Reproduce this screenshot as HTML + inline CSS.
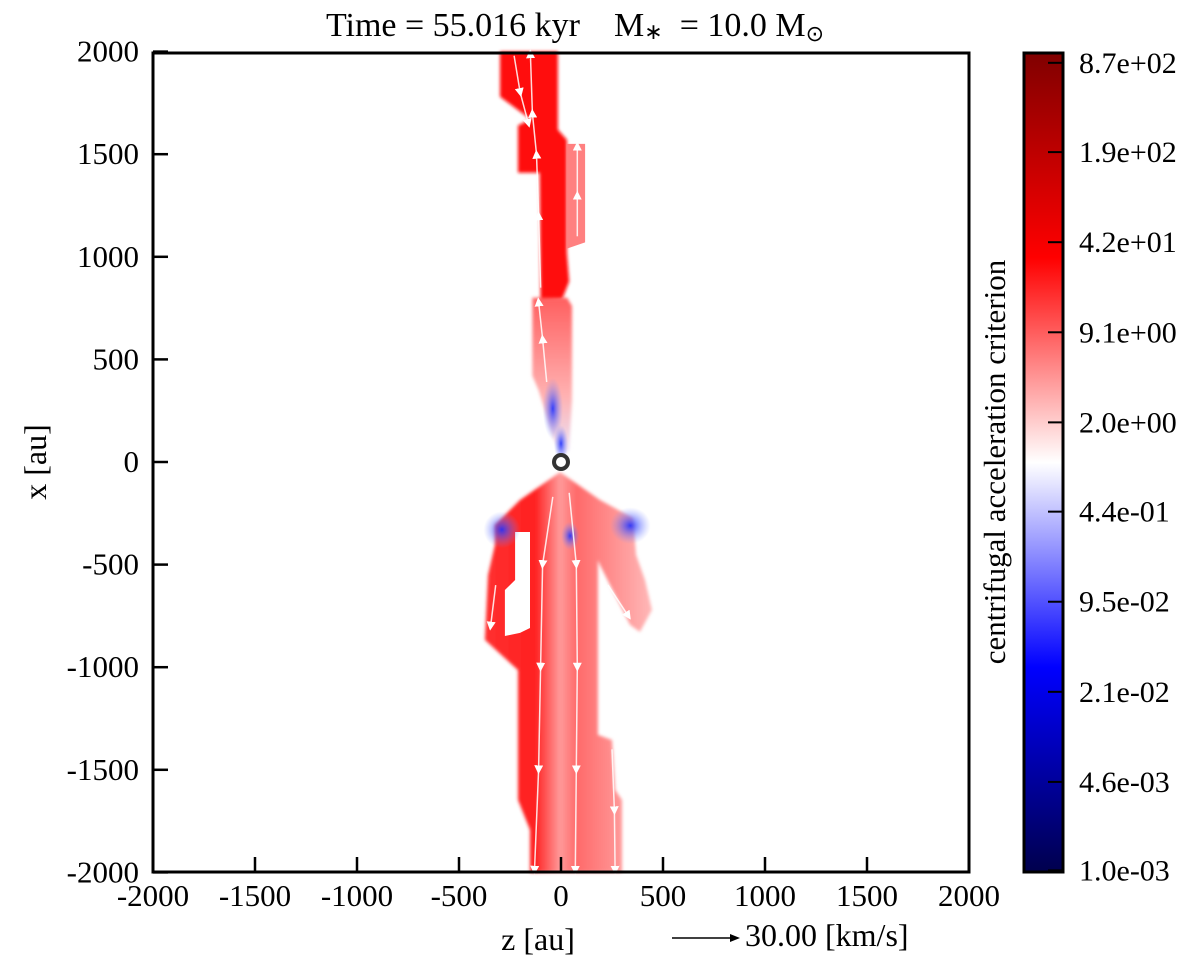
<!DOCTYPE html>
<html><head><meta charset="utf-8">
<style>
body{margin:0;background:#fff;}
svg{display:block;font-family:"Liberation Serif",serif;}
</style></head>
<body>
<svg id="fig" width="1200" height="973" viewBox="0 0 1200 973" xmlns="http://www.w3.org/2000/svg">
<defs>
<linearGradient id="cmap" x1="0" y1="1" x2="0" y2="0">
<stop offset="0" stop-color="#00004d"/><stop offset="0.25" stop-color="#0000ff"/>
<stop offset="0.5" stop-color="#ffffff"/><stop offset="0.75" stop-color="#ff0000"/>
<stop offset="1" stop-color="#800000"/>
</linearGradient>
<linearGradient id="lowGrad" x1="0" y1="0" x2="1" y2="0">
<stop offset="0" stop-color="#ff3030"/><stop offset="0.3" stop-color="#ff2020"/>
<stop offset="0.45" stop-color="#ff9a9a"/><stop offset="0.55" stop-color="#ff6a6a"/>
<stop offset="1" stop-color="#ffb8b8"/>
</linearGradient>
<linearGradient id="paleGrad" x1="0" y1="0" x2="0" y2="1">
<stop offset="0" stop-color="#ff6060"/><stop offset="0.6" stop-color="#ffb0b0"/>
<stop offset="1" stop-color="#e8e8ff"/>
</linearGradient>
<radialGradient id="blueBlob"><stop offset="0" stop-color="#2030ff" stop-opacity="0.9"/><stop offset="1" stop-color="#8090ff" stop-opacity="0"/></radialGradient>
<filter id="soft"><feGaussianBlur stdDeviation="1.5"/></filter>
<marker id="ah" markerWidth="6" markerHeight="6" refX="3" refY="3" orient="auto"><path d="M0,0 L6,3 L0,6 z" fill="#fff"/></marker>
</defs>
<g id="plot"></g>
<rect x="153" y="53" width="816" height="819" fill="none" stroke="#000" stroke-width="3"/>
<g id="axes"></g>
<text x="575" y="36" font-size="34" text-anchor="middle" style="white-space:pre">Time = 55.016 kyr    M<tspan font-size="22" dy="3">∗</tspan><tspan dy="-3">  = 10.0 M</tspan><tspan font-size="22" dy="5">⊙</tspan></text>
<text x="538" y="950" font-size="32" text-anchor="middle">z [au]</text>
<text transform="translate(46,462) rotate(-90)" font-size="32" text-anchor="middle">x [au]</text>
<g>
<line x1="672" y1="938" x2="730" y2="938" stroke="#000" stroke-width="1.5"/>
<path d="M730,934 L740,938 L730,942 z" fill="#000"/>
<text x="745" y="946" font-size="32">30.00 [km/s]</text>
</g>
<rect x="1024" y="53" width="39" height="819" fill="url(#cmap)" stroke="#000" stroke-width="3"/>
<g id="cbar"></g>
<text transform="translate(1005,462) rotate(-90)" font-size="31" text-anchor="middle">centrifugal acceleration criterion</text>
</svg>
<script>
const xTicks=[-2000,-1500,-1000,-500,0,500,1000,1500,2000];
const yTicks=[2000,1500,1000,500,0,-500,-1000,-1500,-2000];
const cbLabels=["8.7e+02","1.9e+02","4.2e+01","9.1e+00","2.0e+00","4.4e-01","9.5e-02","2.1e-02","4.6e-03","1.0e-03"];
const cbFrac=[0.988,0.879,0.769,0.659,0.549,0.440,0.330,0.220,0.110,0.002];
// regions in au: [z,x]
const upperStrong=[[-299,2000],[-15,2000],[-15,1620],[29,1570],[29,1020],[40,880],[5,790],[-100,780],[-105,1410],[-211,1410],[-211,1640],[-150,1670],[-299,1780]];
const upperPaleStrip=[[29,1550],[118,1550],[118,1070],[29,1040]];
const upperPale=[[-140,800],[30,800],[54,760],[54,300],[40,60],[5,15],[-40,120],[-110,350],[-140,420]];
const lowerRegion=[[-5,-49],[191,-185],[353,-273],[368,-453],[412,-575],[446,-721],[387,-828],[338,-794],[191,-502],[181,-478],[181,-1330],[250,-1355],[265,-1598],[299,-1647],[299,-2000],[-152,-2000],[-152,-1793],[-211,-1647],[-211,-1014],[-373,-867],[-358,-551],[-324,-404],[-324,-307],[-201,-185]];
const lowerHole=[[-225,-341],[-152,-341],[-152,-809],[-201,-833],[-275,-848],[-275,-624],[-225,-575]];
const blueBlobs=[[-40,260,50,150],[0,90,35,90],[-290,-330,90,90],[340,-310,100,90],[45,-360,45,70]];
const streamlines=[
 [[-230,1980],[-200,1800],[-160,1650]],
 [[-100,850],[-110,1200],[-120,1500],[-140,1700],[-150,1990]],
 [[80,1100],[80,1300],[80,1540]],
 [[-70,390],[-90,600],[-110,780]],
 [[-40,-170],[-90,-500],[-100,-1000],[-110,-1500],[-130,-1990]],
 [[40,-150],[75,-500],[80,-1000],[75,-1500],[70,-1990]],
 [[250,-1400],[262,-1700],[265,-1990]],
 [[-320,-600],[-345,-800]],
 [[230,-600],[330,-750]]
];
const starPos=[0,0];
const X=z=>153+(z+2000)*816/4000;
const Y=x=>462-x*0.2052;
const Yc=f=>872-f*819;
const NS="http://www.w3.org/2000/svg";
function mk(tag,attrs,parent){const e=document.createElementNS(NS,tag);for(const k in attrs)e.setAttribute(k,attrs[k]);parent.appendChild(e);return e;}
const plot=document.getElementById('plot');
const pts=a=>a.map(p=>X(p[0]).toFixed(1)+","+Y(p[1]).toFixed(1)).join(" ");
let e;
e=mk('polygon',{points:pts(upperStrong),fill:'#ff1010',filter:'url(#soft)'},plot);


e=mk('polygon',{points:pts(upperPaleStrip),fill:'#ff8080'},plot);


e=mk('polygon',{points:pts(upperPale),fill:'url(#paleGrad)',filter:'url(#soft)'},plot);


e=mk('polygon',{points:pts(lowerRegion),fill:'url(#lowGrad)',filter:'url(#soft)'},plot);


e=mk('polygon',{points:pts(lowerHole),fill:'#fff'},plot);


blueBlobs.forEach(b=>{
 const el=mk('ellipse',{cx:X(b[0]),cy:Y(b[1]),rx:b[2]*0.204,ry:b[3]*0.205,fill:'url(#blueBlob)'},plot);
 
 
});
streamlines.forEach(s=>{
 const el=mk('polyline',{points:pts(s),fill:'none',stroke:'#fff','stroke-width':1.5,'stroke-opacity':0.85,'marker-mid':'url(#ah)','marker-end':'url(#ah)'},plot);
 
 
});
e=mk('circle',{cx:X(starPos[0]),cy:Y(starPos[1]),r:7,fill:'#fff',stroke:'#333','stroke-width':4},plot);


const axes=document.getElementById('axes');
xTicks.forEach(t=>{
 const l=mk('line',{x1:X(t),x2:X(t),y1:872,y2:857,stroke:'#000','stroke-width':2.5},axes);
 
 
 const tx=mk('text',{x:X(t),y:906,'font-size':31,'text-anchor':'middle'},axes);
 tx.textContent=t;
 
 
});
yTicks.forEach(t=>{
 const l=mk('line',{x1:153,x2:168,y1:Y(t),y2:Y(t),stroke:'#000','stroke-width':2.5},axes);
 
 
 const tx=mk('text',{x:139,y:Y(t)+10,'font-size':31,'text-anchor':'end'},axes);
 tx.textContent=t;
 
 
});
const cb=document.getElementById('cbar');
cbLabels.forEach((s,i)=>{
 const y=Yc(cbFrac[i]);
 const l=mk('line',{x1:1048,x2:1063,y1:y,y2:y,stroke:'#000','stroke-width':2},cb);
 
 
 const tx=mk('text',{x:1079,y:y+10,'font-size':30},cb);
 tx.textContent=s;
 
 
});
</script>
</body></html>
